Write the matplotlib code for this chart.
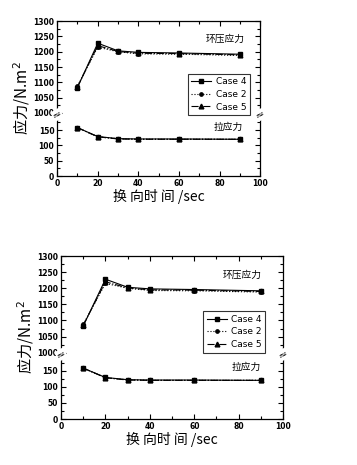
import matplotlib
matplotlib.use("Agg")
import matplotlib.pyplot as plt
import matplotlib.transforms as mtransforms
import numpy as np

plt.rcParams["font.family"] = ["DejaVu Sans", "Noto Sans CJK SC"]

# data
times = [10, 20, 30, 40, 60, 90]
case4_comp = [1083, 1228, 1203, 1198, 1196, 1192]
case2_comp = [1088, 1215, 1200, 1193, 1192, 1188]
case5_comp = [1085, 1220, 1201, 1195, 1194, 1190]
case4_tens = [158, 129, 122, 121, 121, 120]
case2_tens = [158, 128, 122, 120, 120, 120]
case5_tens = [158, 128, 121, 120, 120, 120]
case_labels = ["Case 4", "Case 2", "Case 5"]
y_ticks = [0, 50, 100, 150, 1000, 1050, 1100, 1150, 1200, 1250, 1300]
y_minor = [25, 75, 125, 175, 1025, 1075, 1125, 1175, 1225, 1275]
x_ticks = [0, 20, 40, 60, 80, 100]

CJK = ["Noto Sans CJK SC", "DejaVu Sans"]

# broken y axis: 0..197 kept, 197..997 squeezed, 997..1300 shifted down
LO, HI, SQ = 197.0, 997.0, 6.0


def fwd(y):
    y = np.asarray(y, dtype=float)
    mid = LO + (y - LO) * SQ / (HI - LO)
    return np.where(y <= LO, y, np.where(y >= HI, y - (HI - LO) + SQ, mid))


def inv(v):
    v = np.asarray(v, dtype=float)
    mid = LO + (v - LO) * (HI - LO) / SQ
    return np.where(v <= LO, v, np.where(v >= LO + SQ, v + (HI - LO) - SQ, mid))


def draw_panel(ax):
    ax.set_yscale("function", functions=(fwd, inv))
    styles = [("s", "-", 3.2), ("o", ":", 2.4), ("^", "-.", 3.4)]
    comp = [case4_comp, case2_comp, case5_comp]
    tens = [case4_tens, case2_tens, case5_tens]
    for (m, ls, ms), c, t, lab in zip(styles, comp, tens, case_labels):
        ax.plot(times, c, color="black", marker=m, ls=ls, lw=0.8,
                ms=ms, label=lab)
        ax.plot(times, t, color="black", marker=m, ls=ls, lw=0.8, ms=ms)

    ax.set_xlim(0, 100)
    ax.set_ylim(0, 1300)
    ax.set_xticks(x_ticks)
    ax.set_xticks(range(10, 100, 20), minor=True)
    ax.set_yticks(y_ticks)
    ax.set_yticks(y_minor, minor=True)
    ax.set_yticklabels([str(v) for v in y_ticks])
    ax.tick_params(which="both", direction="in", top=True, right=True,
                   labelsize=5.5, width=0.8)
    ax.tick_params(which="major", length=3.5, pad=2)
    ax.tick_params(which="minor", length=2)
    for lbl in ax.get_xticklabels() + ax.get_yticklabels():
        lbl.set_fontweight("bold")
    for s in ax.spines.values():
        s.set_linewidth(0.9)

    # break marks on both spines
    tr_l = mtransforms.blended_transform_factory(ax.transAxes, ax.transData)
    for xa in (0, 1):
        ax.text(xa, 596, "≈", transform=tr_l, ha="center", va="center",
                fontsize=8, rotation=30,
                bbox=dict(fc="white", ec="none", pad=0.2), clip_on=False)

    ax.text(73, 1232, "环压应力", family=CJK, fontsize=7)
    ax.text(77, 152, "拉应力", family=CJK, fontsize=7)

    ax.set_ylabel("应力/N.m$^2$", family=CJK, fontsize=11, labelpad=1)
    ax.set_xlabel("换 向时 间 /sec", family=CJK, fontsize=10, labelpad=1)

    leg = ax.legend(loc="upper left", bbox_to_anchor=(0.62, 0.69),
                    fontsize=6.5, frameon=True, fancybox=False,
                    edgecolor="black", handlelength=2.2, borderpad=0.4,
                    labelspacing=0.4, handletextpad=0.5)
    leg.get_frame().set_linewidth(0.8)


fig = plt.figure(figsize=(3.57, 4.65), dpi=100)
ax1 = fig.add_axes([0.160, 0.6215, 0.569, 0.333])
ax2 = fig.add_axes([0.171, 0.0989, 0.622, 0.3505])
draw_panel(ax1)
draw_panel(ax2)

fig.savefig("out.png", dpi=100)
